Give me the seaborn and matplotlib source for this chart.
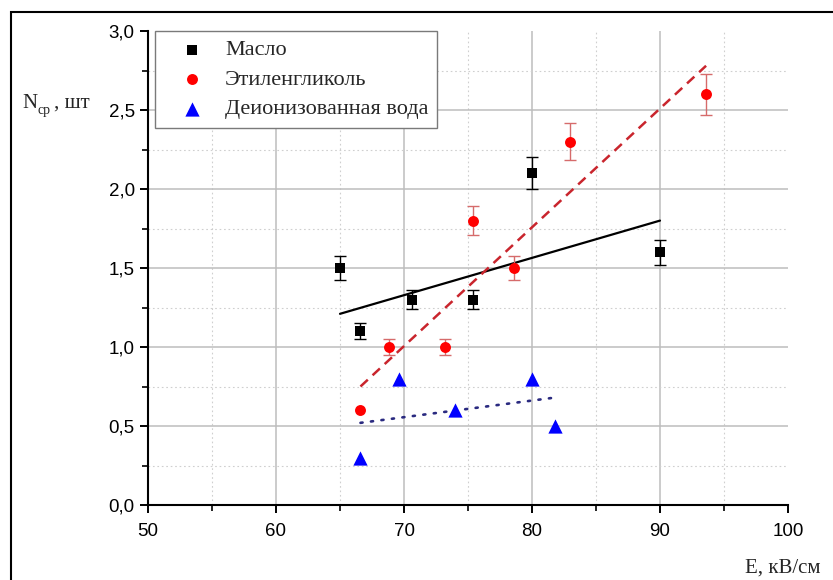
import numpy as np
import seaborn as sns
import matplotlib.pyplot as plt
from matplotlib.ticker import MultipleLocator, FuncFormatter
from matplotlib.patches import Rectangle
from matplotlib.font_manager import FontProperties

# Масло
oil_e = [65.0, 66.6, 70.6, 75.4, 80.0, 90.0]
oil_n = [1.5, 1.1, 1.3, 1.3, 2.1, 1.6]
oil_err = [0.075, 0.05, 0.06, 0.06, 0.10, 0.08]

# Этиленгликоль
glycol_e = [66.6, 68.8, 73.2, 75.4, 78.6, 83.0, 93.6]
glycol_n = [0.6, 1.0, 1.0, 1.8, 1.5, 2.3, 2.6]
glycol_err = [0.0, 0.05, 0.05, 0.09, 0.075, 0.115, 0.13]

# Деионизованная вода
water_e = [66.6, 69.6, 74.0, 80.0, 81.8]
water_n = [0.3, 0.8, 0.6, 0.8, 0.5]

# linear fits, end points
oil_fit_e = [65.0, 90.0]
oil_fit_n = [1.21, 1.80]
glycol_fit_e = [66.6, 93.6]
glycol_fit_n = [0.75, 2.78]
water_fit_e = [66.6, 81.8]
water_fit_n = [0.52, 0.68]

labels = ['Масло', 'Этиленгликоль', 'Деионизованная вода']

sns.set_theme(style='white')
plt.rcParams['font.family'] = ['Liberation Sans', 'DejaVu Sans']

W, H = 833, 580
fig = plt.figure(figsize=(W / 100, H / 100), dpi=100)
ax = fig.add_axes([148 / W, 1 - 505 / H, 640 / W, 474 / H])

serif = 'Liberation Serif'

# fit lines
sns.lineplot(x=oil_fit_e, y=oil_fit_n, color='black', lw=1.6, ax=ax, zorder=3)
sns.lineplot(x=glycol_fit_e, y=glycol_fit_n, color='#c9252d', lw=1.8,
             linestyle=(0, (4, 2.6)), ax=ax, zorder=3)
sns.lineplot(x=water_fit_e, y=water_fit_n, color='#2a2a80', lw=1.9,
             linestyle=(0, (0.8, 3.2)), dash_capstyle='round', ax=ax, zorder=3)

# error bars
ax.errorbar(oil_e, oil_n, yerr=oil_err, fmt='none', ecolor='black',
            elinewidth=1.0, capsize=4, capthick=1.0, zorder=4)
g_e = [e for e, s in zip(glycol_e, glycol_err) if s > 0]
g_n = [n for n, s in zip(glycol_n, glycol_err) if s > 0]
g_s = [s for s in glycol_err if s > 0]
ax.errorbar(g_e, g_n, yerr=g_s, fmt='none', ecolor='#d66b6b',
            elinewidth=1.0, capsize=4, capthick=1.0, zorder=4)

# points
sns.scatterplot(x=oil_e, y=oil_n, marker='s', s=55, color='black',
                linewidth=0, label=labels[0], ax=ax, zorder=5)
sns.scatterplot(x=glycol_e, y=glycol_n, marker='o', s=62, color='#ff0000',
                linewidth=0, label=labels[1], ax=ax, zorder=5)
sns.scatterplot(x=water_e, y=water_n, marker='^', s=105, color='#0000ff',
                linewidth=0, label=labels[2], ax=ax, zorder=5)

ax.set_xlim(50, 100)
ax.set_ylim(0, 3)
ax.xaxis.set_major_locator(MultipleLocator(10))
ax.xaxis.set_minor_locator(MultipleLocator(5))
ax.yaxis.set_major_locator(MultipleLocator(0.5))
ax.yaxis.set_minor_locator(MultipleLocator(0.25))
ax.xaxis.set_major_formatter(FuncFormatter(lambda v, p: f'{v:.0f}'))
ax.yaxis.set_major_formatter(FuncFormatter(lambda v, p: f'{v:.1f}'.replace('.', ',')))

ax.grid(which='major', color='#bdbdbd', lw=1.1, ls='-')
ax.grid(which='minor', color='#cfcfcf', lw=0.8, ls=(0, (1.5, 2.5)))
ax.set_axisbelow(True)
for line, v in zip(ax.get_xgridlines(), ax.get_xticks()):
    if v >= 100:
        line.set_visible(False)
for line, v in zip(ax.get_ygridlines(), ax.get_yticks()):
    if v >= 3:
        line.set_visible(False)

sns.despine(ax=ax)
for side in ('left', 'bottom'):
    ax.spines[side].set_color('black')
    ax.spines[side].set_linewidth(1.5)
ax.tick_params(which='major', direction='out', length=6, width=1.4,
               colors='black', labelsize=13.5, left=True, bottom=True)
ax.tick_params(axis='x', which='major', pad=7)
ax.tick_params(axis='y', which='major', pad=3.5)
ax.tick_params(which='minor', direction='out', length=4, width=1.2,
               colors='black', left=True, bottom=True)
ax.set_xlabel('')
ax.set_ylabel('')

leg = ax.legend(loc='upper left', bbox_to_anchor=(0.011, 1.0), borderaxespad=0,
                frameon=True, fancybox=False, framealpha=1, edgecolor='#7a7a7a',
                prop=FontProperties(family=serif, size=16), markerscale=1.0,
                handlelength=2.5, handletextpad=0.25, labelspacing=0.4,
                borderpad=0.4)
leg.get_frame().set_linewidth(1.0)
leg.set_zorder(10)


def px(x, y):
    return x / W, 1 - y / H


# axis titles
fig.text(*px(22, 108), 'N', family=serif, size=15, va='baseline', ha='left')
fig.text(*px(38, 114), 'ср', family=serif, size=10, va='baseline', ha='left')
fig.text(*px(54, 108), ', шт', family=serif, size=15, va='baseline', ha='left')
fig.text(*px(745, 573), 'E, кВ/см', family=serif, size=15, va='baseline', ha='left')

# frame around the figure
fig.patches.append(Rectangle((11 / W, -0.05), 1.2, 1 - 12 / H + 0.05,
                             transform=fig.transFigure, fill=False,
                             edgecolor='black', lw=1.5))

fig.savefig('out.png', dpi=100)
